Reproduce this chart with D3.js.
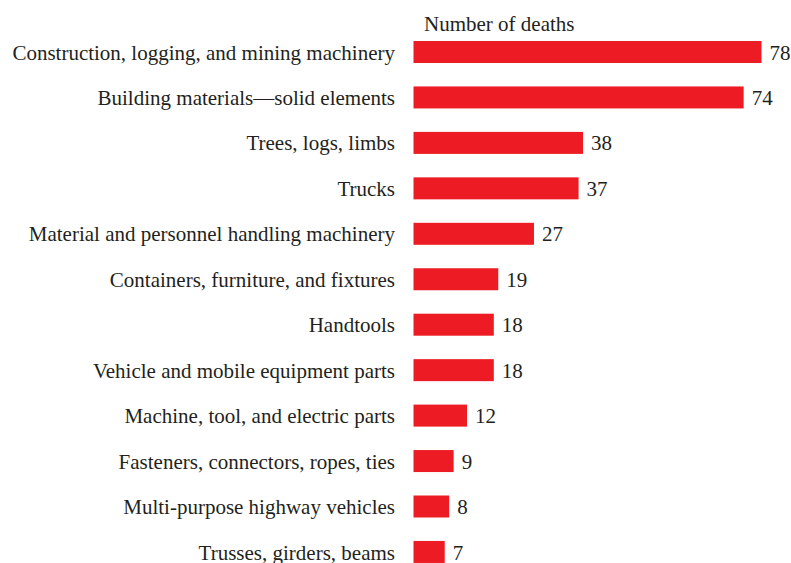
<!DOCTYPE html>
<html><head><meta charset="utf-8">
<script src="https://cdn.jsdelivr.net/npm/d3@7"></script>
<style>body{margin:0;background:#fff}svg{display:block}</style>
</head><body>
<svg id="c" width="791" height="563"></svg>
<script>
const categories = [
  "Construction, logging, and mining machinery",
  "Building materials\u2014solid elements",
  "Trees, logs, limbs",
  "Trucks",
  "Material and personnel handling machinery",
  "Containers, furniture, and fixtures",
  "Handtools",
  "Vehicle and mobile equipment parts",
  "Machine, tool, and electric parts",
  "Fasteners, connectors, ropes, ties",
  "Multi-purpose highway vehicles",
  "Trusses, girders, beams"
];
const deaths = [78, 74, 38, 37, 27, 19, 18, 18, 12, 9, 8, 7];
const axisTitle = "Number of deaths";

const svg = d3.select("#c");
const font = "'Liberation Serif','Times New Roman',serif";
const fs = 21;
const x = d3.scaleLinear().domain([0, 78]).range([413.5, 761.5]);
const step = 45.45;
const y = d3.scaleBand().domain(categories)
  .range([41 - (step - 22) / 2, 41 - (step - 22) / 2 + step * 12])
  .paddingInner((step - 22) / step).paddingOuter((step - 22) / step / 2);

svg.append("text").attr("x", 424).attr("y", 31)
  .attr("font-family", font).attr("font-size", fs).attr("fill", "#231f20")
  .text(axisTitle);

const g = svg.append("g");
g.selectAll("rect").data(deaths).join("rect")
  .attr("x", x(0)).attr("y", (d, i) => y(categories[i]))
  .attr("width", d => x(d) - x(0)).attr("height", y.bandwidth())
  .attr("fill", "#ed1c24");

g.selectAll("text.v").data(deaths).join("text").attr("class", "v")
  .attr("x", d => x(d) + 8).attr("y", (d, i) => y(categories[i]) + y.bandwidth() / 2)
  .attr("dy", "0.36em").attr("font-family", font).attr("font-size", fs).attr("fill", "#231f20")
  .text(d => d);

const yAxis = d3.axisLeft(y).tickSize(0).tickPadding(0);
const ga = svg.append("g").attr("transform", "translate(395,0)").call(yAxis);
ga.select(".domain").remove();
ga.selectAll("text").attr("font-family", font).attr("font-size", fs).attr("fill", "#231f20").attr("dy", "0.36em");
</script>
</body></html>
